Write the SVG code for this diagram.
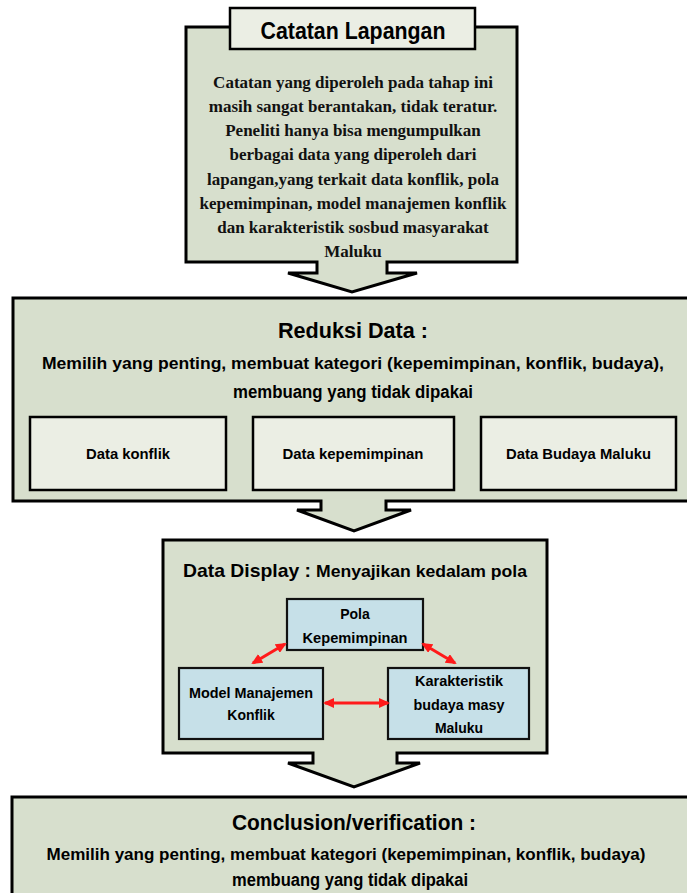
<svg xmlns="http://www.w3.org/2000/svg" width="687" height="893" viewBox="0 0 687 893">
<defs>
<style>
.stage{fill:#D7DFCD;stroke:#000;stroke-width:3;stroke-linejoin:miter}
.light{fill:#EBEEE4;stroke:#000;stroke-width:2.5}
.blue{fill:#C6E0E8;stroke:#111;stroke-width:2.2}
.sans{font-family:"Liberation Sans",Arial,sans-serif;font-weight:bold;fill:#000;text-anchor:middle}
.serif{font-family:"Liberation Serif","Times New Roman",serif;font-weight:bold;fill:#111;text-anchor:middle;font-size:17px}
.red{stroke:#FF1A1A;stroke-width:3;fill:none;marker-start:url(#ah);marker-end:url(#ah)}
</style>
<marker id="ah" markerUnits="userSpaceOnUse" markerWidth="11" markerHeight="10" refX="9" refY="5" orient="auto-start-reverse" viewBox="0 0 11 10">
<path d="M0,0 L11,5 L0,10 z" fill="#FF1A1A"/>
</marker>
</defs>
<rect width="687" height="893" fill="#fff"/>

<g id="catatan-lapangan">
<path class="stage" d="M186,27 H517 V262 H387 V273 H417 L352,292 L288,273 H317 V262 H186 Z"/>
<rect class="light" x="230" y="8" width="245" height="41" stroke-width="3"/>
<text class="sans" x="353" y="39" font-size="24" textLength="185" lengthAdjust="spacingAndGlyphs">Catatan Lapangan</text>
<text class="serif" x="353" y="88">Catatan yang diperoleh pada tahap ini</text>
<text class="serif" x="353" y="112">masih sangat berantakan, tidak teratur.</text>
<text class="serif" x="353" y="136">Peneliti hanya bisa mengumpulkan</text>
<text class="serif" x="353" y="160">berbagai data yang diperoleh dari</text>
<text class="serif" x="353" y="185">lapangan,yang terkait data konflik, pola</text>
<text class="serif" x="353" y="209">kepemimpinan, model manajemen konflik</text>
<text class="serif" x="353" y="233">dan karakteristik sosbud masyarakat</text>
<text class="serif" x="353" y="257">Maluku</text>
</g>

<g id="reduksi-data">
<path class="stage" d="M13,298 H692 V501 H386 V510 H411 L354,531 L297,510 H321 V501 H13 Z"/>
<text class="sans" x="353" y="338" font-size="22" textLength="150" lengthAdjust="spacingAndGlyphs">Reduksi Data :</text>
<text class="sans" x="353" y="369" font-size="17" textLength="622" lengthAdjust="spacingAndGlyphs">Memilih yang penting, membuat kategori (kepemimpinan, konflik, budaya),</text>
<text class="sans" x="353" y="398" font-size="17.5" textLength="240" lengthAdjust="spacingAndGlyphs">membuang yang tidak dipakai</text>
</g>
<g id="data-konflik">
<rect class="light" x="30" y="417" width="196" height="73"/>
<text class="sans" x="128" y="459" font-size="15" textLength="84" lengthAdjust="spacingAndGlyphs">Data konflik</text>
</g>
<g id="data-kepemimpinan">
<rect class="light" x="253" y="417" width="201" height="73"/>
<text class="sans" x="353" y="459" font-size="15" textLength="141" lengthAdjust="spacingAndGlyphs">Data kepemimpinan</text>
</g>
<g id="data-budaya">
<rect class="light" x="481" y="417" width="195" height="73"/>
<text class="sans" x="578.5" y="459" font-size="15" textLength="145" lengthAdjust="spacingAndGlyphs">Data Budaya Maluku</text>
</g>

<g id="data-display">
<path class="stage" d="M163,540 H547 V753 H397 V763 H420 L354,787 L288,763 H313 V753 H163 Z"/>
<text class="sans" x="183" y="577" font-size="19" style="text-anchor:start" textLength="128" lengthAdjust="spacingAndGlyphs">Data Display :</text>
<text class="sans" x="316" y="577" font-size="16" style="text-anchor:start" textLength="211" lengthAdjust="spacingAndGlyphs">Menyajikan kedalam pola</text>
</g>
<g id="pola-kepemimpinan">
<rect class="blue" x="287" y="599" width="136" height="51"/>
<text class="sans" x="355" y="619" font-size="14">Pola</text>
<text class="sans" x="355" y="643" font-size="14" textLength="105" lengthAdjust="spacingAndGlyphs">Kepemimpinan</text>
</g>
<g id="model-manajemen">
<rect class="blue" x="179" y="668" width="144" height="71"/>
<text class="sans" x="251" y="698" font-size="14" textLength="124" lengthAdjust="spacingAndGlyphs">Model Manajemen</text>
<text class="sans" x="251" y="720" font-size="14">Konflik</text>
</g>
<g id="karakteristik">
<rect class="blue" x="388" y="668" width="141" height="71"/>
<text class="sans" x="459" y="686" font-size="14" textLength="88" lengthAdjust="spacingAndGlyphs">Karakteristik</text>
<text class="sans" x="459" y="710" font-size="14" textLength="91" lengthAdjust="spacingAndGlyphs">budaya masy</text>
<text class="sans" x="459" y="733" font-size="14">Maluku</text>
</g>

<g id="connectors">
<line class="red" x1="253" y1="663" x2="285" y2="644"/>
<line class="red" x1="423" y1="644" x2="455" y2="663"/>
<line class="red" x1="325" y1="703" x2="388" y2="703"/>
</g>

<g id="conclusion">
<path class="stage" d="M12,797 H692 V898 H12 Z"/>
<text class="sans" x="354" y="830" font-size="22" textLength="244" lengthAdjust="spacingAndGlyphs">Conclusion/verification :</text>
<text class="sans" x="346" y="860" font-size="17" textLength="599" lengthAdjust="spacingAndGlyphs">Memilih yang penting, membuat kategori (kepemimpinan, konflik, budaya)</text>
<text class="sans" x="350" y="886" font-size="17.5" textLength="236" lengthAdjust="spacingAndGlyphs">membuang yang tidak dipakai</text>
</g>
</svg>
